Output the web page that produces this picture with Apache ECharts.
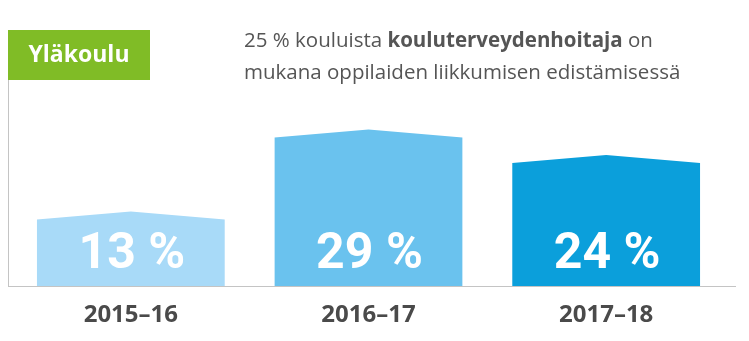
<!DOCTYPE html>
<html><head><meta charset="utf-8">
<script src="https://cdn.jsdelivr.net/npm/echarts@6/dist/echarts.min.js"></script>
<style>html,body{margin:0;padding:0;background:#fff}#c{width:749px;height:341px}</style>
</head><body><div id="c"></div>
<script>
const categories = ['2015–16', '2016–17', '2017–18'];
const values = [13, 29, 24];
const valueLabels = ['13 %', '29 %', '24 %'];
const barColors = ['#a8daf8', '#6ac2ee', '#0b9fdb'];
const badgeText = 'Yläkoulu';
const titleParts = ['25 % kouluista ', 'kouluterveydenhoitaja', ' on', 'mukana oppilaiden liikkumisen edistämisessä'];

const FONT = '"Open Sans", sans-serif';
const chart = echarts.init(document.getElementById('c'), null, {renderer: 'canvas'});

chart.setOption({
  animation: false,
  backgroundColor: '#fff',
  title: {
    left: 244, top: 25, padding: 0,
    text: '{a|' + titleParts[0] + '}{b|' + titleParts[1] + '}{a|' + titleParts[2] + '}\n{a|' + titleParts[3] + '}',
    textStyle: {
      fontWeight: 'normal',
      rich: {
        a: {fontFamily: FONT, fontSize: 20.5, fontWeight: 'normal', color: '#555', lineHeight: 32},
        b: {fontFamily: FONT, fontSize: 20.5, fontWeight: 'bold', color: '#555', lineHeight: 32}
      }
    }
  },
  grid: {left: 12, right: 24, top: 81, bottom: 55},
  xAxis: {
    type: 'category', data: categories,
    axisLine: {show: false}, axisTick: {show: false},
    axisLabel: {fontFamily: FONT, fontSize: 24, fontWeight: 'bold', color: '#4a4a4a', margin: 17}
  },
  yAxis: {type: 'value', min: 0, max: 40, show: false, splitLine: {show: false}},
  series: [{
    type: 'custom',
    data: values.map((v, i) => [i, v]),
    renderItem: function (params, api) {
      const idx = api.value(0);
      const top = api.coord([idx, api.value(1)]);
      const base = api.coord([idx, 0]);
      const w = api.size([1, 0])[0] * 0.79;
      const x0 = top[0] - w / 2, x1 = top[0] + w / 2;
      const peak = 8;
      return {
        type: 'group',
        children: [
          {type: 'polygon', shape: {points: [[x0, base[1]], [x0, top[1]], [top[0], top[1] - peak], [x1, top[1]], [x1, base[1]]]},
           style: {fill: barColors[params.dataIndex]}},
          {type: 'text', x: top[0] + 1, y: base[1] - 31,
           style: {text: valueLabels[params.dataIndex], fill: '#fff', font: 'bold 50px Roboto, sans-serif', align: 'center', verticalAlign: 'middle'}}
        ]
      };
    }
  }],
  graphic: [
    {type: 'line', shape: {x1: 8.5, y1: 80, x2: 8.5, y2: 286}, style: {stroke: '#c4c4c4', lineWidth: 1}, z: 1},
    {type: 'group', left: 8, top: 30, children: [
      {type: 'rect', shape: {x: 0, y: 0, width: 142, height: 50}, style: {fill: '#80bc26'}},
      {type: 'text', x: 71, y: 25, style: {text: badgeText, fill: '#fff', font: 'bold 23px "Open Sans", sans-serif', align: 'center', verticalAlign: 'middle'}}
    ]},
    {type: 'line', shape: {x1: 8, y1: 286.5, x2: 736, y2: 286.5}, style: {stroke: '#c4c4c4', lineWidth: 1}, z: 100}
  ]
});
</script></body></html>
